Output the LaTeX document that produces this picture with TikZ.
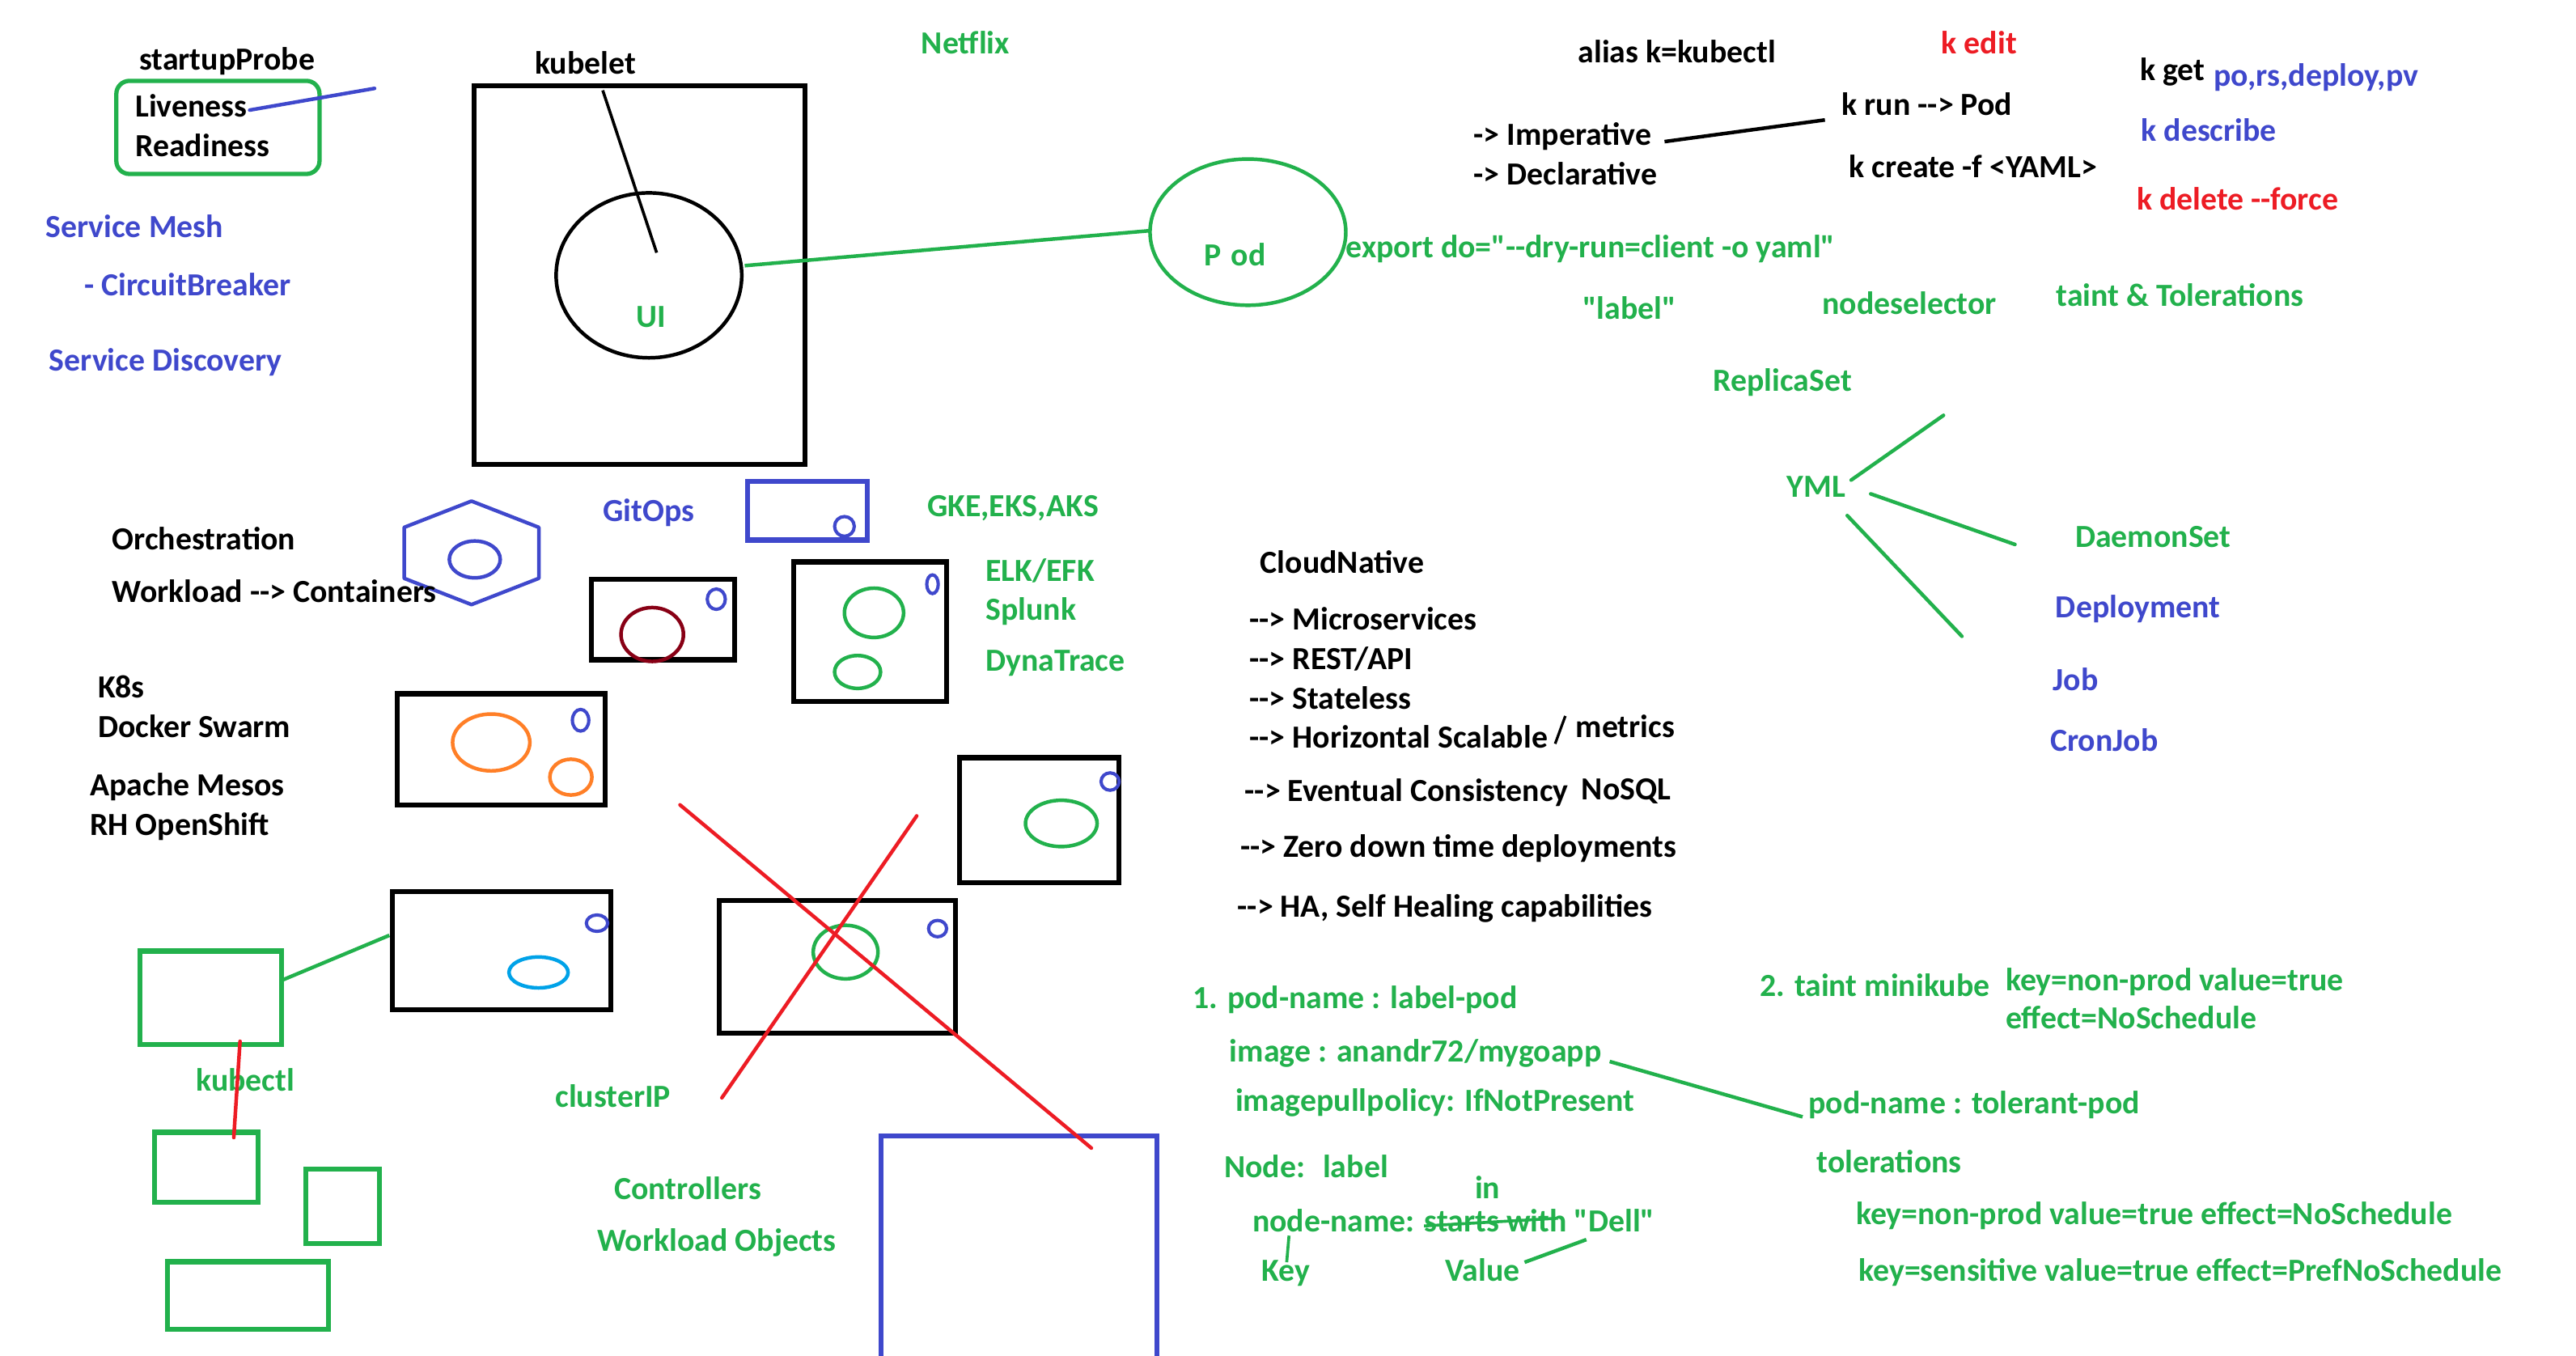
\documentclass[tikz,border=0pt]{standalone}
\usepackage{fontspec}
\setmainfont{Carlito}[Ligatures=TeXOff]
\definecolor{pgreen}{HTML}{22B14C}
\definecolor{pblue}{HTML}{3F48CC}
\definecolor{pred}{HTML}{ED1C24}
\definecolor{porange}{HTML}{FF7F27}
\definecolor{pmaroon}{HTML}{880015}
\definecolor{pcyan}{HTML}{00A2E8}
\tikzset{
  txt/.style={anchor=base west, inner sep=0pt, font=\fontsize{19.6}{22}\selectfont\bfseries},
  gtxt/.style={txt, text=pgreen},
  btxt/.style={txt, text=pblue},
  rtxt/.style={txt, text=pred},
  box/.style={line width=3pt},
  pen/.style={line width=2.2pt},
  ring/.style={line width=2pt, draw=pblue},
}
\begin{document}
\begin{tikzpicture}[x=1pt,y=-1pt]
\useasboundingbox (0,0) rectangle (1568,825);
\fill[white] (0,0) rectangle (1568,825);

% ---------- probes ----------
\node[txt] (startup) at (84.6,42.4) {startupProbe};
\draw[pgreen, line width=2.6pt, rounded corners=8pt] (70.8,49.2) rectangle (194.5,105.9);
\node[txt] (live) at (82.2,71.4) {Liveness};
\node[txt] (ready) at (82.2,95.5) {Readiness};
\coordinate (liveEnd) at (228,53.8);
\draw[pblue, pen, line cap=round] (152,67) -- (liveEnd);

\node[btxt] (mesh) at (27.6,144.5) {Service Mesh};
\node[btxt] (cb) at (51.1,180.2) {- CircuitBreaker};
\node[btxt] (disc) at (29.7,225.7) {Service Discovery};

% ---------- kubelet node with UI pod ----------
\node[txt] (kubelet) at (325.4,45.1) {kubelet};
\draw[box] (288.8,52.2) rectangle (489.9,282.6);
\draw[pen] (395,167.6) ellipse [x radius=56.5, y radius=50.2];
\coordinate (uiPod) at (453.3,161.7);
\draw[line width=1.8pt] (366.9,55) -- (399.7,153.8);
\node[gtxt] (ui) at (386.9,199.4) {UI};

\node[gtxt] (netflix) at (560.7,32.8) {Netflix};

% pod bubble
\draw[pgreen, pen] (759.6,141.3) ellipse [x radius=59.6, y radius=44.5];
\coordinate (podL) at (700,140.4);
\draw[pgreen, pen] (uiPod) -- (podL);
\node[gtxt] (pod) at (732.7,161.7) {P\hspace{6pt}od};
\node[gtxt] (export) at (819.1,156.8) {export do="--dry-run=client -o yaml"};

% ---------- kubectl commands ----------
\node[txt] (alias) at (960.4,38.1) {alias k=kubectl};
\node[txt] (imp) at (896.9,88.6) {-> Imperative};
\node[txt] (decl) at (896.9,112.4) {-> Declarative};
\node[txt] (krun) at (1121,70.3) {k run --> Pod};
\draw[line width=2.2pt] (1013.2,86.2) -- (1110.8,73);
\node[txt] (kcreate) at (1125.4,108.3) {k create -f <YAML>};
\node[rtxt] (kedit) at (1181.6,32.8) {k edit};
\node[txt] (kget) at (1302.5,48.8) {k get};
\node[btxt] (kgetargs) at (1347.4,52.2) {po,rs,deploy,pv};
\node[btxt] (kdesc) at (1303.1,85.7) {k describe};
\node[rtxt] (kdel) at (1300.4,127.7) {k delete --force};

\node[gtxt] (label) at (963.2,194.5) {"label"};
\node[gtxt] (nodesel) at (1109,191.2) {nodeselector};
\node[gtxt] (taint) at (1251.4,186.3) {taint \& Tolerations};

% ---------- workload objects ----------
\node[gtxt] (rs) at (1042.6,238) {ReplicaSet};
\node[gtxt] (yml) at (1087.6,302.5) {YML};
\draw[pgreen, pen, line cap=round] (1126.8,292.2) -- (1183,252.8);
\draw[pgreen, pen, line cap=round] (1138.7,300.6) -- (1226.5,331.4);
\draw[pgreen, pen, line cap=round] (1124.4,313.8) -- (1194.2,387.3);
\node[gtxt] (ds) at (1263,333) {DaemonSet};
\node[btxt] (deploy) at (1251.1,376) {Deployment};
\node[btxt] (job) at (1249.4,420.3) {Job};
\node[btxt] (cron) at (1247.7,457) {CronJob};

% ---------- orchestration ----------
\node[txt] (orch) at (68.1,334.4) {Orchestration};
\draw[pblue, pen, line join=round] (287,305) -- (328,321) -- (328,352) -- (287,368) -- (246,352) -- (246,321) -- cycle;
\draw[pblue, pen] (289,340.5) ellipse [x radius=15.5, y radius=11.2];
\node[txt] (workload) at (68.1,366.7) {Workload --> Containers};
\node[txt] (k8s) at (59.4,424.6) {K8s};
\node[txt] (swarm) at (59.4,448.8) {Docker Swarm};
\node[txt] (mesos) at (54.6,484.2) {Apache Mesos};
\node[txt] (openshift) at (54.6,508.4) {RH OpenShift};

\node[btxt] (gitops) at (366.9,317.5) {GitOps};
\draw[pblue, box] (455,292.8) rectangle (528,328.7);
\draw[ring] (514,320.4) ellipse [x radius=6, y radius=6];

% container boxes
\draw[box] (360,352.7) rectangle (447,401.6);
\draw[pmaroon, pen] (397,386.2) ellipse [x radius=19, y radius=16.4];
\draw[ring] (436,364.7) ellipse [x radius=5.5, y radius=6.2];

\draw[box] (483,342) rectangle (576,426.8);
\draw[pgreen, pen] (532,373) ellipse [x radius=18, y radius=15];
\draw[pgreen, pen] (522,409) ellipse [x radius=14, y radius=10];
\draw[ring] (567.6,355.6) ellipse [x radius=3.5, y radius=5.7];

\draw[box] (241.8,422.3) rectangle (368.4,489.9);
\draw[porange, pen] (299,451.9) ellipse [x radius=23.5, y radius=17.3];
\draw[porange, pen] (347.5,473) ellipse [x radius=12.8, y radius=10.9];
\draw[ring] (353.4,438.4) ellipse [x radius=5, y radius=6.6];

\draw[box] (583.9,461.2) rectangle (681,537.2);
\draw[pgreen, pen] (646,501.2) ellipse [x radius=21.8, y radius=14.1];
\draw[ring] (675.7,475.7) ellipse [x radius=5.5, y radius=5.3];

\node[gtxt] (gke) at (564.2,314.6) {GKE,EKS,AKS};
\node[gtxt] (elk) at (599.8,353.8) {ELK/EFK};
\node[gtxt] (splunk) at (599.8,377.7) {Splunk};
\node[gtxt] (dyna) at (599.8,408.5) {DynaTrace};

% ---------- cloud native ----------
\node[txt] (cn) at (767,349.1) {CloudNative};
\node[txt] (micro) at (760.4,383.4) {--> Microservices};
\node[txt] (rest) at (760.4,407.5) {--> REST/API};
\node[txt] (stateless) at (760.4,431.4) {--> Stateless};
\node[txt] (hscale) at (760.4,455.2) {--> Horizontal Scalable};
\draw[line width=1.6pt] (946.6,452.7) -- (952.8,435.8);
\node[txt] (metrics) at (959,449) {metrics};
\node[txt] (evc) at (757.6,487.6) {--> Eventual Consistency};
\node[txt] (nosql) at (962.5,486.7) {NoSQL};
\node[txt] (zero) at (754.9,521.9) {--> Zero down time deployments};
\node[txt] (ha) at (753.1,558.3) {--> HA, Self Healing capabilities};

% ---------- services / kubectl sketch ----------
\draw[pgreen, box] (85.3,578.9) rectangle (171.4,635.6);
\draw[box] (239,542.6) rectangle (372,614.8);
\draw[pcyan, pen] (327.8,591.9) ellipse [x radius=18, y radius=9.4];
\draw[ring] (363.4,561.9) ellipse [x radius=6.5, y radius=5];
\coordinate (svcA) at (170.3,597.2);
\coordinate (podBox) at (237,569.3);
\draw[pgreen, pen] (svcA) -- (podBox);
\node[gtxt] (kubectl) at (119.2,664.3) {kubectl};
\draw[pgreen, box] (94,689.2) rectangle (157.2,732);
\draw[pred, pen, line cap=round] (146.1,633.8) -- (142.3,692.4);
\draw[pgreen, box] (186.2,711.8) rectangle (230.8,757);
\draw[pgreen, box] (101.9,768) rectangle (200,809);

\node[gtxt] (clusterip) at (337.9,674.1) {clusterIP};
\node[gtxt] (ctrl) at (373.8,730) {Controllers};
\node[gtxt] (wlo) at (363.4,761.4) {Workload Objects};

% crossed-out box
\draw[box] (437.7,548) rectangle (581.4,629);
\draw[pgreen, pen] (514.7,579.5) ellipse [x radius=19.7, y radius=16.3];
\draw[ring] (570.7,565.2) ellipse [x radius=5.5, y radius=5];
\draw[pblue, box] (536.2,835) -- (536.2,691.2) -- (704.4,691.2) -- (704.4,835);
\draw[pred, pen, line cap=round] (413.9,489.9) -- (664.3,698.8);
\draw[pred, pen, line cap=round] (558,496.6) -- (439.4,668.2);

% ---------- pod specs ----------
\node[gtxt] (p1) at (725.8,613.6) {1. pod-name : label-pod};
\node[gtxt] (img) at (748.3,646.1) {image : anandr72/mygoapp};
\node[gtxt] (ipp) at (751.8,676.3) {imagepullpolicy: IfNotPresent};
\node[gtxt] (nodelbl) at (744.9,716.9) {Node:\hspace{5pt} label};
\node[gtxt] (in) at (897.6,729.5) {in};
\node[gtxt] (nname) at (762.2,749.7) {node-name: starts with "Dell"};
\draw[pgreen, line width=1.8pt] (866.8,746.2) -- (948.3,741.5);
\node[gtxt] (key) at (768,780) {Key};
\node[gtxt] (value) at (879.6,780) {Value};
\draw[pgreen, line width=1.8pt] (784.6,752.1) -- (783.2,768.3);
\draw[pgreen, pen] (928,768.3) -- (965.6,754.5);

\node[gtxt] (t2) at (1071,606.7) {2. taint minikube};
\node[gtxt] (tkv) at (1220.7,602.8) {key=non-prod value=true};
\node[gtxt] (teff) at (1220.7,626.2) {effect=NoSchedule};
\node[gtxt] (tpod) at (1100.6,678.1) {pod-name : tolerant-pod};
\draw[pgreen, pen] (979.8,646.1) -- (1097.2,679.8);
\node[gtxt] (tol) at (1105.7,713.6) {tolerations};
\node[gtxt] (tol1) at (1129.5,745.4) {key=non-prod value=true effect=NoSchedule};
\node[gtxt] (tol2) at (1131.2,779.7) {key=sensitive value=true effect=PrefNoSchedule};
\end{tikzpicture}
\end{document}
